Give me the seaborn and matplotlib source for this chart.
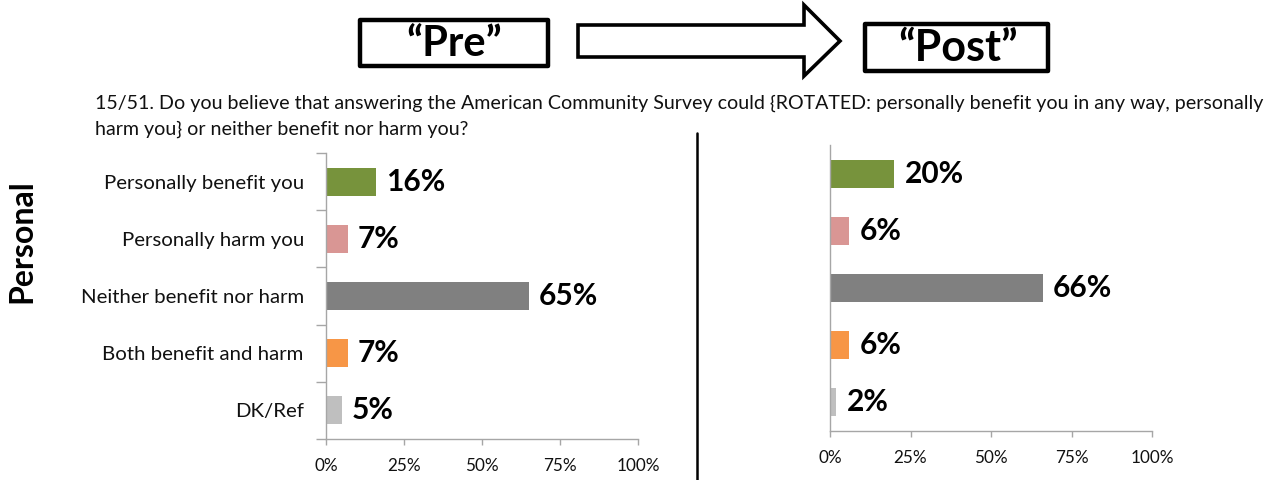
import matplotlib
matplotlib.use("Agg")
import matplotlib.pyplot as plt
from matplotlib.patches import Rectangle, Polygon
import seaborn as sns
import pandas as pd

# Survey responses (percent)
categories = ["Personally benefit you", "Personally harm you", "Neither benefit nor harm",
              "Both benefit and harm", "DK/Ref"]
pre_values = [16, 7, 65, 7, 5]
post_values = [20, 6, 66, 6, 2]
bar_colors = ["#77933C", "#D99694", "#808080", "#F79646", "#BFBFBF"]
x_ticks = [0, 25, 50, 75, 100]
x_tick_labels = ["0%", "25%", "50%", "75%", "100%"]

question_lines = [
    "15/51. Do you believe that answering the American Community Survey could {ROTATED: personally benefit you in any way, personally",
    "harm you} or neither benefit nor harm you?",
]

sns.set_theme(style="white")
plt.rcParams["font.family"] = ["Lato", "DejaVu Sans"]
plt.rcParams["text.color"] = "black"

W, H = 1276, 480
fig = plt.figure(figsize=(W / 100, H / 100), dpi=100)


def rect(x0, y0, x1, y1):
    return [x0 / W, 1 - y1 / H, (x1 - x0) / W, (y1 - y0) / H]


# Header / decoration layer in pixel coordinates
deco = fig.add_axes([0, 0, 1, 1])
deco.set_xlim(0, W)
deco.set_ylim(H, 0)
deco.axis("off")

deco.add_patch(Rectangle((360, 20), 188, 46, fill=False, lw=3.2, ec="black", joinstyle="round"))
deco.add_patch(Rectangle((865, 24), 183, 47, fill=False, lw=3.2, ec="black", joinstyle="round"))
arrow = [(578, 25), (804, 25), (804, 5), (840, 41), (804, 76), (804, 57), (578, 57)]
deco.add_patch(Polygon(arrow, closed=True, fill=False, lw=2.6, ec="black", joinstyle="miter"))
deco.text(454, 44, "\u201cPre\u201d", ha="center", va="center", fontsize=30,
          fontweight="bold", color="black")
deco.text(958, 48, "\u201cPost\u201d", ha="center", va="center", fontsize=31,
          fontweight="bold", color="black")

deco.text(95, 103, question_lines[0], ha="left", va="center", fontsize=14.1, color="#111111")
deco.text(95, 129, question_lines[1], ha="left", va="center", fontsize=14.1, color="#111111")

deco.plot([697, 697], [133, 480], color="black", lw=1.8)
deco.text(22, 241, "Personal", rotation=90, ha="center", va="center", fontsize=23,
          fontweight="bold", color="black")

spine_color = "#A6A6A6"


def draw_panel(ax, values, show_labels):
    df = pd.DataFrame({"category": categories, "value": values})
    sns.barplot(data=df, x="value", y="category", hue="category", palette=bar_colors,
                orient="h", width=0.49, legend=False, ax=ax, linewidth=0, saturation=1)
    ax.set_xlim(0, 100)
    ax.set_ylim(len(categories) - 0.5, -0.5)
    ax.set_xlabel("")
    ax.set_ylabel("")
    for side in ("top", "right"):
        ax.spines[side].set_visible(False)
    for side in ("left", "bottom"):
        ax.spines[side].set_color(spine_color)
        ax.spines[side].set_linewidth(1.0)
    ax.set_xticks(x_ticks)
    ax.set_xticklabels(x_tick_labels)
    ax.tick_params(axis="x", length=4, width=1, color=spine_color, pad=10,
                   labelsize=12.3, labelcolor="#111111", direction="out", bottom=True)
    if show_labels:
        ax.set_yticks(range(len(categories)))
        ax.set_yticklabels(categories)
        ax.set_yticks([i - 0.5 for i in range(len(categories) + 1)], minor=True)
        ax.tick_params(axis="y", which="major", length=0, pad=16, labelsize=14.7,
                       labelcolor="#111111")
        ax.tick_params(axis="y", which="minor", length=7, width=1, color=spine_color,
                       direction="out", left=True)
    else:
        ax.set_yticks([])
    for i, v in enumerate(values):
        ax.annotate(f"{v}%", xy=(v, i), xytext=(10, 0), textcoords="offset pixels",
                    ha="left", va="center", fontsize=21.5, fontweight="bold", color="black")


ax_pre = fig.add_axes(rect(326, 153, 638, 439))
draw_panel(ax_pre, pre_values, True)

ax_post = fig.add_axes(rect(830, 145, 1152, 431))
draw_panel(ax_post, post_values, False)

fig.savefig("out.png", dpi=100)
